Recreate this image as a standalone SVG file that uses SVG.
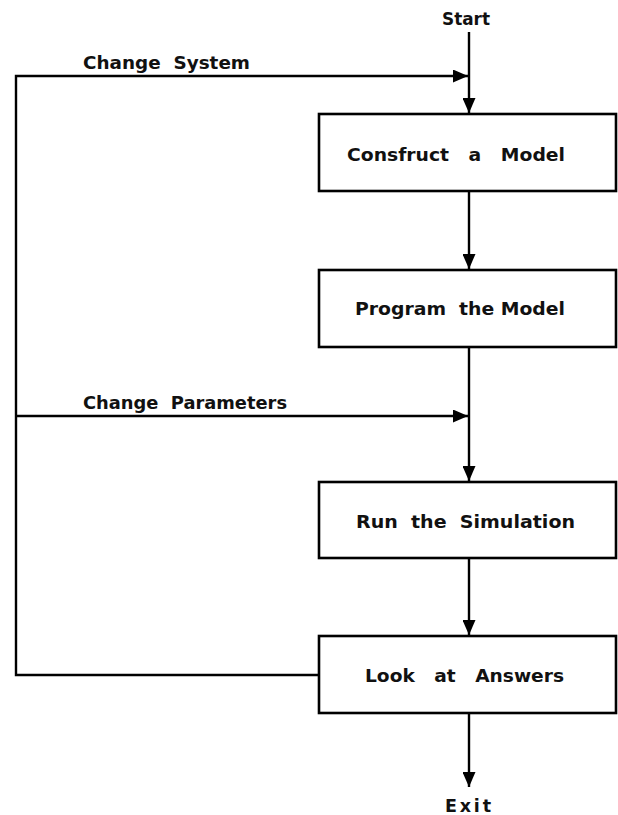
<svg xmlns="http://www.w3.org/2000/svg" width="618" height="815" viewBox="0 0 618 815">
<style>
.box{fill:#fff;stroke:#000;stroke-width:2.6}
.ln{fill:none;stroke:#000;stroke-width:2.4}
.t{font-family:"DejaVu Sans","Liberation Sans",sans-serif;font-size:17.5px;font-weight:bold;fill:#111;text-anchor:start}
</style>
<defs>
<marker id="ah" markerUnits="userSpaceOnUse" markerWidth="16" markerHeight="13" refX="15" refY="6.5" orient="auto">
<path d="M0,0 L15,6.5 L0,13 z" fill="#000"/>
</marker>
</defs>
<rect width="618" height="815" fill="#fff"/>
<g id="connectors">
<path class="ln" d="M469 32 V113" marker-end="url(#ah)"/>
<path class="ln" d="M319 675 H16 V76 H468" marker-end="url(#ah)"/>
<path class="ln" d="M16 416 H468" marker-end="url(#ah)"/>
<path class="ln" d="M469 191 V269" marker-end="url(#ah)"/>
<path class="ln" d="M469 347 V481" marker-end="url(#ah)"/>
<path class="ln" d="M469 558 V635" marker-end="url(#ah)"/>
<path class="ln" d="M469 713 V787" marker-end="url(#ah)"/>
<text class="t" x="83" y="69" xml:space="preserve" textLength="167" lengthAdjust="spacingAndGlyphs">Change  System</text>
<text class="t" x="83" y="409" xml:space="preserve" textLength="204" lengthAdjust="spacingAndGlyphs">Change  Parameters</text>
</g>
<g id="start"><text class="t" x="442" y="25" textLength="48" lengthAdjust="spacingAndGlyphs">Start</text></g>
<g id="construct">
<rect class="box" x="319" y="114" width="297" height="77"/>
<text class="t" x="347" y="161" xml:space="preserve" textLength="218" lengthAdjust="spacingAndGlyphs">Consfruct   a   Model</text>
</g>
<g id="program">
<rect class="box" x="319" y="270" width="297" height="77"/>
<text class="t" x="355" y="315" xml:space="preserve" textLength="210" lengthAdjust="spacingAndGlyphs">Program  the Model</text>
</g>
<g id="run">
<rect class="box" x="319" y="482" width="297" height="76"/>
<text class="t" x="356" y="528" xml:space="preserve" textLength="219" lengthAdjust="spacingAndGlyphs">Run  the  Simulation</text>
</g>
<g id="look">
<rect class="box" x="319" y="636" width="297" height="77"/>
<text class="t" x="365" y="682" xml:space="preserve" textLength="199" lengthAdjust="spacingAndGlyphs">Look   at   Answers</text>
</g>
<g id="exit"><text class="t" x="445" y="812" textLength="46" lengthAdjust="spacing">Exit</text></g>
</svg>
